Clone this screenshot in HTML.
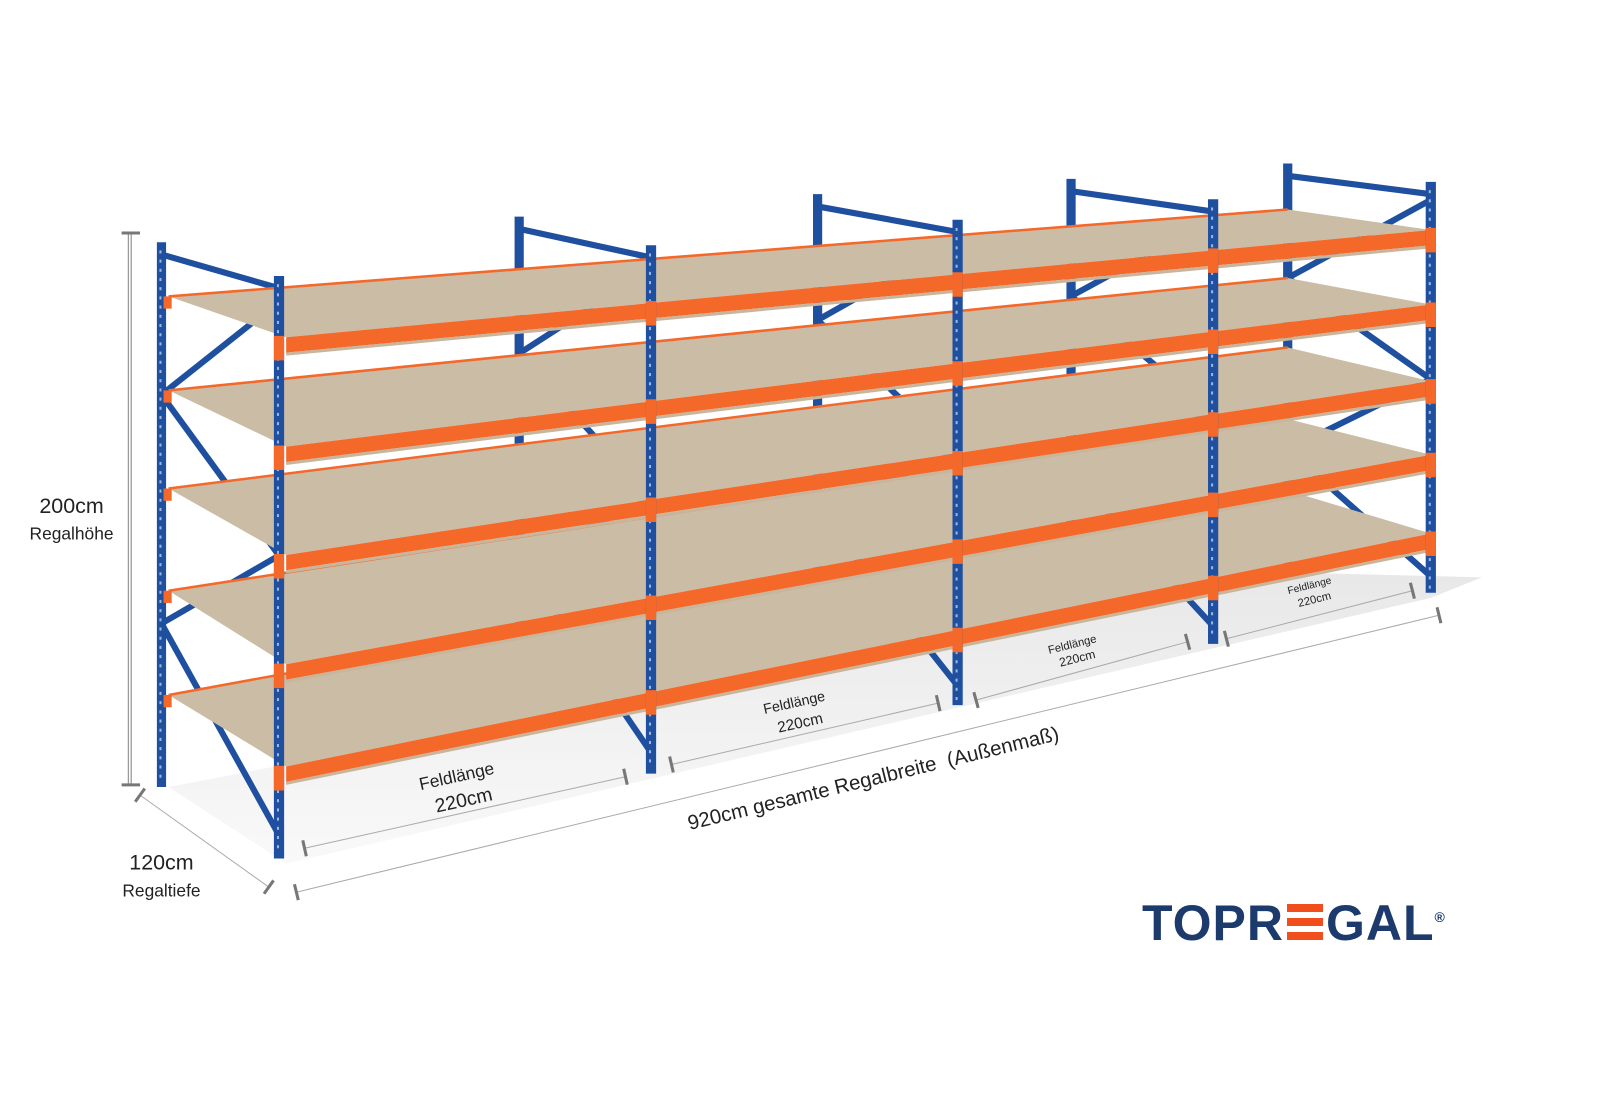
<!DOCTYPE html>
<html><head><meta charset="utf-8"><style>
html,body{margin:0;padding:0;background:#fff;width:1600px;height:1100px;overflow:hidden}
svg{display:block}
text{font-family:"Liberation Sans",Arial,sans-serif}
</style></head><body>
<svg id="s" width="1600" height="1100" viewBox="0 0 1600 1100" xmlns="http://www.w3.org/2000/svg">
<defs>
<linearGradient id="fl" x1="0" y1="0" x2="0" y2="1"><stop offset="0" stop-color="#e8e8e8"/><stop offset="1" stop-color="#f9f9f9"/></linearGradient>
</defs>
<g id="g" transform="scale(1.022)"></g>
</svg>
<script>
var g=document.getElementById('g');var h='';
function L(a,b,c,d,col,w){h+='<line x1="'+a+'" y1="'+b+'" x2="'+c+'" y2="'+d+'" stroke="'+col+'" stroke-width="'+w+'" stroke-linecap="butt"/>';}
function P(pts,fill){h+='<polygon points="'+pts.map(function(p){return p.join(',')}).join(' ')+'" fill="'+fill+'"/>';}
function lerp(a,b,t){return a+(b-a)*t}
var BLUE='#1f4f9f',OR='#f4692a',BOARD='#cbbca6';
P([[165,770],[1262,560],[1450,565],[1400,585],[280,845]],'url(#fl)');
var FX=[273,637,937,1187,1400], FT=[270,240,215,195,178], FB=[840,757,690,630,580];
var BX=[158,508,800,1048,1260], BT=[237,212,190,175,160], BB=[770,690,630,585,560];
var F0=[330,437,543,650,750],F1=[225,298,373,445,522];
var B0=[290,382,478,578,680],B1=[205,272,340,410,480];
function fy(i,x){return lerp(F0[i],F1[i],(x-280)/1120)}
for(var k=0;k<5;k++){L(BX[k],BT[k],BX[k],BB[k],BLUE,9);}
for(var k=0;k<5;k++){
 var b=BX[k],f=FX[k];
 L(b,BT[k]+12,f,FT[k]+12,BLUE,6);
 var seq=[[f,0.044],[b,0.28],[f,0.48],[b,0.70],[f,0.96]];
 var pts=seq.map(function(s){return s[0]==f?[f,lerp(FT[k],FB[k],s[1])]:[b,lerp(BT[k],BB[k],s[1])]});
 for(var j=0;j<pts.length-1;j++)L(pts[j][0],pts[j][1],pts[j+1][0],pts[j+1][1],BLUE,6);
}
for(var i=0;i<5;i++){
 P([[280,F0[i]],[165,B0[i]],[1260,B1[i]],[1400,F1[i]]],BOARD);
 L(165,B0[i],1260,B1[i],OR,2.5);
 P([[160,B0[i]],[168,B0[i]],[168,B0[i]+12],[160,B0[i]+12]],OR);
}
for(var i=0;i<5;i++){
 P([[280,F0[i]],[1400,F1[i]],[1400,F1[i]+15],[280,F0[i]+15]],OR);
 P([[280,F0[i]+15],[1400,F1[i]+15],[1400,F1[i]+18],[280,F0[i]+18]],'#c8b59c');
}
for(var k=0;k<5;k++){L(FX[k],FT[k],FX[k],FB[k],BLUE,10);
 for(var y=FT[k]+8;y<FB[k]-5;y+=9)L(FX[k]-1,y,FX[k]-1,y+3,'#9fb4dd',2);
 for(var i=0;i<5;i++){var yy=fy(i,FX[k]);P([[FX[k]-5,yy-2],[FX[k]+5,yy-2],[FX[k]+5,yy+22],[FX[k]-5,yy+22]],OR);}
}
for(var y=BT[0]+8;y<BB[0]-5;y+=9)L(157,y,157,y+3,'#9fb4dd',2);
function dim(a,b,c,d){
 h+='<line x1="'+a+'" y1="'+b+'" x2="'+c+'" y2="'+d+'" stroke="#aaa" stroke-width="1"/>';
 var dx=c-a,dy=d-b,l=Math.hypot(dx,dy),nx=-dy/l*8,ny=dx/l*8;
 L(a-nx,b-ny,a+nx,b+ny,'#777',3);L(c-nx,d-ny,c+nx,d+ny,'#777',3);}
h+='<line x1="127" y1="228" x2="127" y2="768" stroke="#999" stroke-width="4"/><line x1="127" y1="228" x2="127" y2="768" stroke="#fff" stroke-width="1.5"/>';
L(119,228,137,228,'#777',3);L(119,768,137,768,'#777',3);
dim(137,778,263,868);
dim(290,873,1408,602);
dim(298,830,612,760);dim(657,748,918,688);dim(955,685,1162,628);dim(1200,625,1382,578);
function T(x,y,s,rot,txt,col){h+='<text x="'+x+'" y="'+y+'" font-size="'+s+'" fill="'+(col||'#222')+'" text-anchor="middle" transform="rotate('+rot+' '+x+' '+y+')">'+txt+'</text>';}
T(70,502,21,0,'200cm');T(70,528,17,0,'Regalhöhe');
T(158,851,21,0,'120cm');T(158,877,17,0,'Regaltiefe');
T(856,768,20,-13.7,'920cm gesamte Regalbreite&#160;&#160;(Außenmaß)');
T(448,765,17,-12.5,'Feldlänge');T(455,789,19,-12.5,'220cm');
T(778,692,14,-12.5,'Feldlänge');T(784,712,15,-12.5,'220cm');
T(1050,634,11,-14,'Feldlänge');T(1055,648,12,-14,'220cm');
T(1282,576,10,-14,'Feldlänge');T(1287,590,11,-14,'220cm');
g.innerHTML=h;
</script>
<div style="position:absolute;left:1142px;top:898px;font:bold 50px 'Liberation Sans',Arial,sans-serif;color:#1c3a6b;letter-spacing:1px;line-height:50px;white-space:nowrap">TOPR<span style="display:inline-block;width:36px;height:36px;vertical-align:baseline;margin:0 3px;background:linear-gradient(#f04e1c 0 8px,transparent 8px 14px,#f04e1c 14px 22px,transparent 22px 28px,#f04e1c 28px 36px)"></span>GAL<sup style="font-size:14px;vertical-align:top;position:relative;top:-6px">®</sup></div>
</body></html>
